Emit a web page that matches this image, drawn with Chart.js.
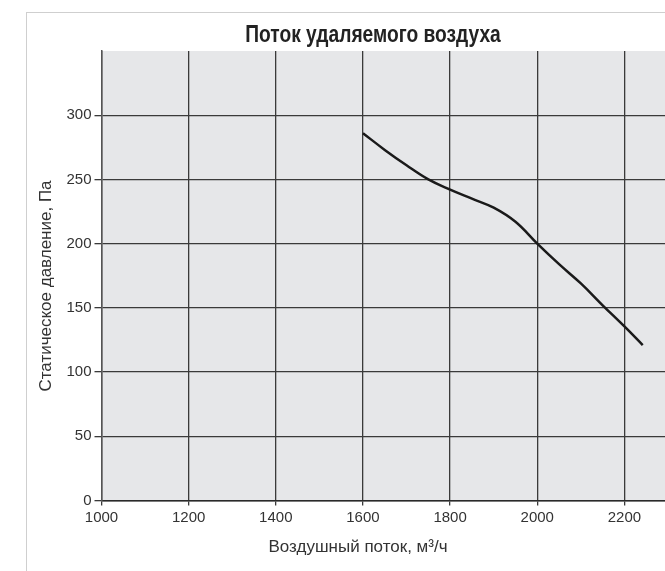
<!DOCTYPE html>
<html>
<head>
<meta charset="utf-8">
<script src="https://cdn.jsdelivr.net/npm/chart.js@4/dist/chart.umd.min.js"></script>
<style>
  html, body { margin: 0; padding: 0; background: #fff; overflow: hidden; width: 665px; height: 571px; }
  #frame { position: absolute; left: 26px; top: 12px; width: 700px; height: 600px;
           border-left: 1.5px solid #cfcfcf; border-top: 1.5px solid #cfcfcf; }
  #c { position: absolute; left: 0; top: 0; }
</style>
</head>
<body>
<div id="frame"></div>
<canvas id="c" width="668" height="571"></canvas>
<script>
// ---- data ----
const flowValues = [1600, 1650, 1700, 1750, 1800, 1850, 1900, 1950, 2000, 2050, 2100, 2150, 2200, 2242];
const pressureValues = [286, 273, 261, 250, 242, 235, 228, 217, 200, 184, 169, 152, 135.5, 121];
const xTickValues = [1000, 1200, 1400, 1600, 1800, 2000, 2200];
const yTickValues = [0, 50, 100, 150, 200, 250, 300];
const chartTitle = 'Поток удаляемого воздуха';
const xTitle = 'Воздушный поток, м³/ч';
const yTitle = 'Статическое давление, Па';

const points = flowValues.map((x, i) => ({ x: x, y: pressureValues[i] }));

const tickFont = { family: "'Liberation Sans', Arial, sans-serif", size: 15 };
const gridCol = '#3a3a3a';

const decor = {
  id: 'decor',
  beforeDraw(chart) {
    const { ctx, chartArea: a } = chart;
    ctx.save();
    ctx.fillStyle = '#e6e7e9';
    ctx.fillRect(a.left, a.top, a.right - a.left, a.bottom - a.top);
    ctx.restore();
  },
  afterDraw(chart) {
    const ctx = chart.ctx;
    ctx.save();
    ctx.fillStyle = '#222';
    ctx.textAlign = 'center';
    ctx.textBaseline = 'alphabetic';
    ctx.font = "bold 24px 'Liberation Sans', Arial, sans-serif";
    ctx.save();
    ctx.translate(373, 42);
    ctx.scale(0.8, 1);
    ctx.fillText(chartTitle, 0, 0);
    ctx.restore();
    ctx.fillStyle = '#333';
    ctx.font = "17px 'Liberation Sans', Arial, sans-serif";
    ctx.textBaseline = 'middle';
    ctx.fillText(xTitle, 358, 547);
    ctx.translate(46, 286);
    ctx.rotate(-Math.PI / 2);
    ctx.fillText(yTitle, 0, 0);
    ctx.restore();
  }
};

new Chart(document.getElementById('c'), {
  type: 'line',
  data: {
    datasets: [{
      data: points,
      borderColor: '#1a1a1a',
      borderWidth: 2.5,
      pointRadius: 0,
      fill: false,
      tension: 0.4
    }]
  },
  options: {
    responsive: false,
    animation: false,
    devicePixelRatio: 1,
    layout: { padding: { top: 51, left: 0, right: 0, bottom: 0 } },
    plugins: { legend: { display: false }, title: { display: false }, tooltip: { enabled: false } },
    scales: {
      x: {
        type: 'linear',
        min: 1000, max: 2300,
        afterBuildTicks(scale) { scale.ticks = xTickValues.concat([2300]).map(v => ({ value: v })); },
        afterFit(scale) { scale.height = 70.5; scale.paddingLeft = 0; scale.paddingRight = 0; },
        ticks: {
          autoSkip: false, maxRotation: 0, padding: 3, color: '#333', font: tickFont,
          callback: v => (v > 2200 ? '' : String(v))
        },
        grid: {
          color: c => (c.tick && c.tick.value > 2200 ? 'rgba(0,0,0,0)' : gridCol),
          lineWidth: 1.3, tickLength: 5
        },
        border: { color: '#2a2a2a', width: 1.5 }
      },
      y: {
        type: 'linear',
        min: 0, max: 350,
        afterBuildTicks(scale) { scale.ticks = yTickValues.concat([350]).map(v => ({ value: v })); },
        afterFit(scale) { scale.width = 101.5; scale.paddingTop = 0; scale.paddingBottom = 0; },
        ticks: {
          autoSkip: false, padding: 3, color: '#333', font: tickFont,
          callback: v => (v > 300 ? '' : String(v))
        },
        grid: {
          color: c => (c.tick && c.tick.value > 300 ? 'rgba(0,0,0,0)' : gridCol),
          lineWidth: 1.3, tickLength: 7
        },
        border: { color: '#555', width: 1.5 }
      }
    }
  },
  plugins: [decor]
});
</script>
</body>
</html>
